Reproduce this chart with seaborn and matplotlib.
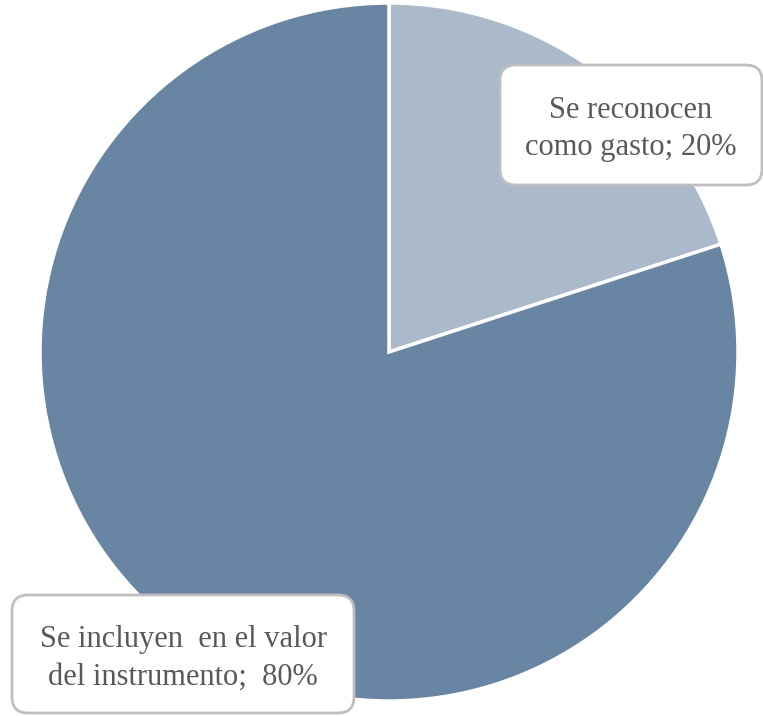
import matplotlib
matplotlib.use("Agg")
import matplotlib.pyplot as plt
from matplotlib.patches import FancyBboxPatch
import seaborn as sns

sns.set_theme(style="white")
plt.rcParams['font.family'] = ['Liberation Serif', 'DejaVu Serif']

categories = ["Se reconocen\ncomo gasto", "Se incluyen  en el valor\ndel instrumento"]
values = [20, 80]
colors = ["#AABACA", "#6886A4"]

fig = plt.figure(figsize=(7.63, 7.16), dpi=100)
ax = fig.add_axes([0, 0, 1, 1])

cx, cy, r = 389, 716 - 352, 349
ax.pie(values, colors=colors, startangle=90, counterclock=False,
       center=(cx, cy), radius=r, frame=True,
       wedgeprops=dict(edgecolor="white", linewidth=2.5))
ax.set_xlim(0, 763)
ax.set_ylim(0, 716)
ax.set_aspect('equal')
ax.axis('off')

labels = [f"{c}; {v}%" if i == 0 else f"{c};  {v}%" for i, (c, v) in enumerate(zip(categories, values))]
boxes = [(500, 716 - 185, 262, 120), (12, 716 - 713, 342, 118)]
for lab, (x0, y0, w, h) in zip(labels, boxes):
    patch = FancyBboxPatch((x0 + 12, y0 + 12), w - 24, h - 24,
                           boxstyle="round,pad=12,rounding_size=16",
                           facecolor="white", edgecolor="#BFBFBF", linewidth=2, zorder=5)
    ax.add_patch(patch)
    ax.text(x0 + w / 2, y0 + h / 2 - 4, lab, ha="center", va="center",
            fontsize=22, color="#595959", zorder=6, linespacing=1.4)

fig.savefig("out.png", dpi=100)
